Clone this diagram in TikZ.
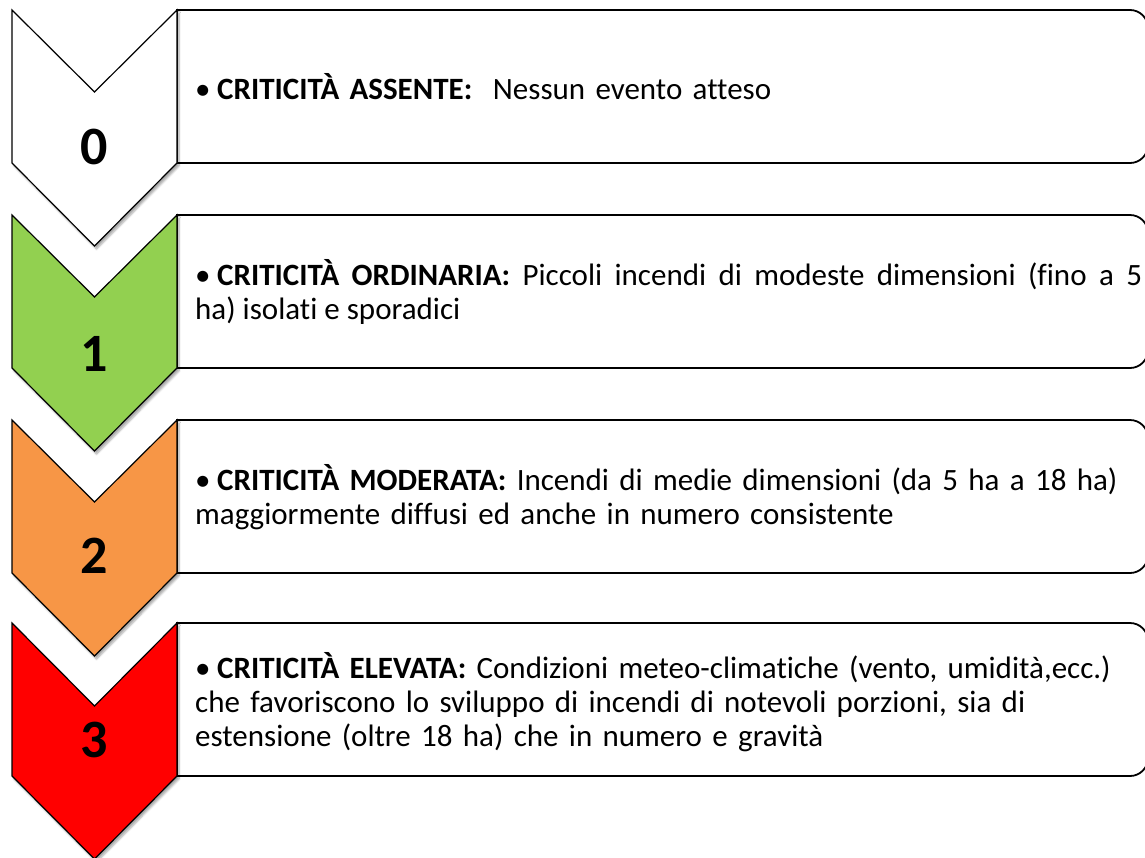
\documentclass[tikz,border=0pt]{standalone}
\usepackage{fontspec}
\setmainfont{Carlito}[Ligatures=NoCommon]
\usepackage{tikz}
\usetikzlibrary{shadows.blur}

\definecolor{levelGreen}{HTML}{92D050}
\definecolor{levelOrange}{HTML}{F79646}
\definecolor{levelRed}{HTML}{FF0000}

\begin{document}
\begin{tikzpicture}[
    x=1pt, y=-1pt,
    chevron/.style={draw=black, line width=1.2pt, line join=miter,
        blur shadow={shadow xshift=2pt, shadow yshift=-3pt, shadow blur steps=6, shadow opacity=35}},
    levelBox/.style={draw=black, line width=1.8pt, fill=white},
    levelNum/.style={inner sep=0pt, font=\fontsize{54}{54}\selectfont\bfseries},
    levelText/.style={anchor=west, inner sep=0pt, text width=947pt, font=\fontsize{31}{34}\selectfont},
    every node/.style={
        text centered,
        }
        ]
    \useasboundingbox (0,0) rectangle (1145,857);
    \clip (0,0) rectangle (1145,857);

    % boxes
    \draw[levelBox] (177,10) [rounded corners=18pt] -- (1148,10) -- (1148,163) [sharp corners] -- (177,163) -- cycle;
    \draw[levelBox] (177,215) [rounded corners=18pt] -- (1148,215) -- (1148,368) [sharp corners] -- (177,368) -- cycle;
    \draw[levelBox] (177,420) [rounded corners=18pt] -- (1148,420) -- (1148,573) [sharp corners] -- (177,573) -- cycle;
    \draw[levelBox] (177,623) [rounded corners=18pt] -- (1148,623) -- (1148,776) [sharp corners] -- (177,776) -- cycle;

    % chevrons
    \draw[chevron, fill=white] (12,10) -- (94.5,92) -- (177,10) -- (177,163) -- (94.5,246) -- (12,163) -- cycle;
    \draw[chevron, fill=levelGreen] (12,215) -- (94.5,297) -- (177,215) -- (177,368) -- (94.5,451) -- (12,368) -- cycle;
    \draw[chevron, fill=levelOrange] (12,420) -- (94.5,502) -- (177,420) -- (177,573) -- (94.5,656) -- (12,573) -- cycle;
    \draw[chevron, fill=levelRed] (12,623) -- (94.5,706) -- (177,623) -- (177,776) -- (94.5,859) -- (12,776) -- cycle;

    \node[levelNum] (num0) at (94.5,147) {0};
    \node[levelNum] (num1) at (94.5,354) {1};
    \node[levelNum] (num2) at (94.5,556) {2};
    \node[levelNum] (num3) at (94.5,740) {3};

    % descriptions
    \node[levelText, align=left] (text0) at (195,86.5) {\hangindent=22pt\hangafter=1\makebox[22pt][l]{\textbullet}\textbf{CRITICITÀ ASSENTE:}\ \ Nessun evento atteso};
    \node[levelText, align=justify] (text1) at (195,292) {\hangindent=22pt\hangafter=1\makebox[22pt][l]{\textbullet}\textbf{CRITICITÀ ORDINARIA:} Piccoli incendi di modeste dimensioni (fino a 5\linebreak ha) isolati e sporadici};
    \node[levelText, align=left] (text2) at (195,497) {\hangindent=22pt\hangafter=1\makebox[22pt][l]{\textbullet}\textbf{CRITICITÀ MODERATA:} Incendi di medie dimensioni (da 5 ha a 18 ha)\\ maggiormente diffusi ed anche in numero consistente};
    \node[levelText, align=left] (text3) at (195,702) {\hangindent=22pt\hangafter=1\makebox[22pt][l]{\textbullet}\textbf{CRITICITÀ ELEVATA:} Condizioni meteo-climatiche (vento, umidità,ecc.)\\ che favoriscono lo sviluppo di incendi di notevoli porzioni, sia di\\ estensione (oltre 18 ha) che in numero e gravità};
\end{tikzpicture}
\end{document}
